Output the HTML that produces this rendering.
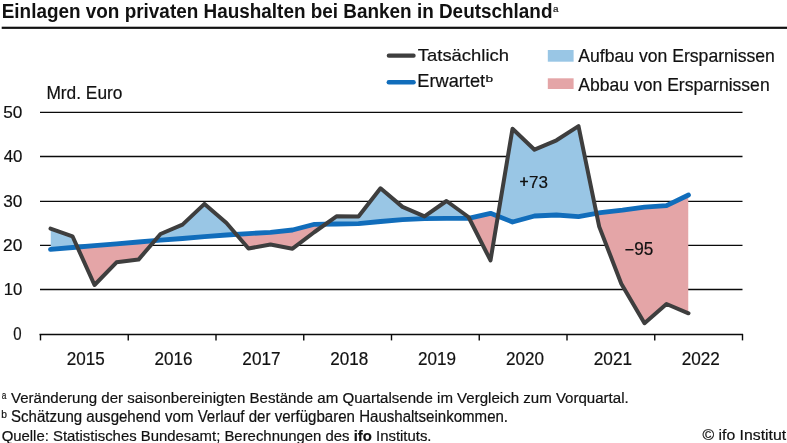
<!DOCTYPE html>
<html><head><meta charset="utf-8"><style>html,body{margin:0;padding:0;background:#fff;width:787px;height:443px;overflow:hidden}svg{display:block}</style></head>
<body><svg width="787" height="443" viewBox="0 0 787 443" font-family="Liberation Sans, sans-serif">
<rect width="787" height="443" fill="#fff"/>
<defs>
<clipPath id="ca"><polygon points="50.5,249.3 72.5,247.5 94.5,245.6 116.5,243.8 138.5,242.0 160.5,240.2 182.5,238.5 204.5,236.6 226.5,235.0 248.5,233.6 270.5,232.3 292.5,230.0 314.5,224.3 336.5,224.0 358.5,223.7 380.5,221.5 402.5,219.6 424.5,218.6 446.5,218.4 468.5,218.4 490.5,213.3 512.5,222.0 534.5,216.0 556.5,215.0 578.5,216.6 600.5,212.7 622.5,210.2 644.5,207.2 666.5,205.6 688.5,195.0 688.5,0 50.5,0"/></clipPath>
<clipPath id="cb"><polygon points="50.5,249.3 72.5,247.5 94.5,245.6 116.5,243.8 138.5,242.0 160.5,240.2 182.5,238.5 204.5,236.6 226.5,235.0 248.5,233.6 270.5,232.3 292.5,230.0 314.5,224.3 336.5,224.0 358.5,223.7 380.5,221.5 402.5,219.6 424.5,218.6 446.5,218.4 468.5,218.4 490.5,213.3 512.5,222.0 534.5,216.0 556.5,215.0 578.5,216.6 600.5,212.7 622.5,210.2 644.5,207.2 666.5,205.6 688.5,195.0 688.5,443 50.5,443"/></clipPath>
</defs>
<rect x="1.7" y="26.7" width="785.3" height="2.2" fill="#111"/>
<line x1="40" y1="289.50" x2="742.5" y2="289.50" stroke="#0a0a0a" stroke-width="1.4"/><line x1="40" y1="245.40" x2="742.5" y2="245.40" stroke="#0a0a0a" stroke-width="1.4"/><line x1="40" y1="201.40" x2="742.5" y2="201.40" stroke="#0a0a0a" stroke-width="1.4"/><line x1="40" y1="156.50" x2="742.5" y2="156.50" stroke="#0a0a0a" stroke-width="1.4"/><line x1="40" y1="112.40" x2="742.5" y2="112.40" stroke="#0a0a0a" stroke-width="1.4"/>
<polygon points="50.5,228.6 72.5,236.3 94.5,285.0 116.5,262.3 138.5,259.6 160.5,234.0 182.5,224.6 204.5,203.9 226.5,223.0 248.5,248.5 270.5,244.5 292.5,248.7 314.5,232.0 336.5,216.3 358.5,216.5 380.5,188.3 402.5,206.9 424.5,216.4 446.5,201.0 468.5,217.0 490.5,260.4 512.5,128.8 534.5,149.7 556.5,140.3 578.5,126.1 599.2,226.6 621.3,283.7 644.5,323.2 666.5,304.0 688.5,313.3 688.5,195.0 666.5,205.6 644.5,207.2 622.5,210.2 600.5,212.7 578.5,216.6 556.5,215.0 534.5,216.0 512.5,222.0 490.5,213.3 468.5,218.4 446.5,218.4 424.5,218.6 402.5,219.6 380.5,221.5 358.5,223.7 336.5,224.0 314.5,224.3 292.5,230.0 270.5,232.3 248.5,233.6 226.5,235.0 204.5,236.6 182.5,238.5 160.5,240.2 138.5,242.0 116.5,243.8 94.5,245.6 72.5,247.5 50.5,249.3" fill="#99c6e5" clip-path="url(#ca)"/>
<polygon points="50.5,228.6 72.5,236.3 94.5,285.0 116.5,262.3 138.5,259.6 160.5,234.0 182.5,224.6 204.5,203.9 226.5,223.0 248.5,248.5 270.5,244.5 292.5,248.7 314.5,232.0 336.5,216.3 358.5,216.5 380.5,188.3 402.5,206.9 424.5,216.4 446.5,201.0 468.5,217.0 490.5,260.4 512.5,128.8 534.5,149.7 556.5,140.3 578.5,126.1 599.2,226.6 621.3,283.7 644.5,323.2 666.5,304.0 688.5,313.3 688.5,195.0 666.5,205.6 644.5,207.2 622.5,210.2 600.5,212.7 578.5,216.6 556.5,215.0 534.5,216.0 512.5,222.0 490.5,213.3 468.5,218.4 446.5,218.4 424.5,218.6 402.5,219.6 380.5,221.5 358.5,223.7 336.5,224.0 314.5,224.3 292.5,230.0 270.5,232.3 248.5,233.6 226.5,235.0 204.5,236.6 182.5,238.5 160.5,240.2 138.5,242.0 116.5,243.8 94.5,245.6 72.5,247.5 50.5,249.3" fill="#e4a5a7" clip-path="url(#cb)"/>
<line x1="39.55" y1="334.5" x2="743" y2="334.5" stroke="#0a0a0a" stroke-width="1.4"/><line x1="40.50" y1="334" x2="40.50" y2="340.4" stroke="#0a0a0a" stroke-width="1.4"/><line x1="128.25" y1="334" x2="128.25" y2="340.4" stroke="#0a0a0a" stroke-width="1.4"/><line x1="216.00" y1="334" x2="216.00" y2="340.4" stroke="#0a0a0a" stroke-width="1.4"/><line x1="303.75" y1="334" x2="303.75" y2="340.4" stroke="#0a0a0a" stroke-width="1.4"/><line x1="391.50" y1="334" x2="391.50" y2="340.4" stroke="#0a0a0a" stroke-width="1.4"/><line x1="479.25" y1="334" x2="479.25" y2="340.4" stroke="#0a0a0a" stroke-width="1.4"/><line x1="567.00" y1="334" x2="567.00" y2="340.4" stroke="#0a0a0a" stroke-width="1.4"/><line x1="654.75" y1="334" x2="654.75" y2="340.4" stroke="#0a0a0a" stroke-width="1.4"/><line x1="742.50" y1="334" x2="742.50" y2="340.4" stroke="#0a0a0a" stroke-width="1.4"/>
<polyline points="50.5,249.3 72.5,247.5 94.5,245.6 116.5,243.8 138.5,242.0 160.5,240.2 182.5,238.5 204.5,236.6 226.5,235.0 248.5,233.6 270.5,232.3 292.5,230.0 314.5,224.3 336.5,224.0 358.5,223.7 380.5,221.5 402.5,219.6 424.5,218.6 446.5,218.4 468.5,218.4 490.5,213.3 512.5,222.0 534.5,216.0 556.5,215.0 578.5,216.6 600.5,212.7 622.5,210.2 644.5,207.2 666.5,205.6 688.5,195.0" fill="none" stroke="#116dbb" stroke-width="4.8" stroke-linejoin="round" stroke-linecap="round"/>
<polyline points="50.5,228.6 72.5,236.3 94.5,285.0 116.5,262.3 138.5,259.6 160.5,234.0 182.5,224.6 204.5,203.9 226.5,223.0 248.5,248.5 270.5,244.5 292.5,248.7 314.5,232.0 336.5,216.3 358.5,216.5 380.5,188.3 402.5,206.9 424.5,216.4 446.5,201.0 468.5,217.0 490.5,260.4 512.5,128.8 534.5,149.7 556.5,140.3 578.5,126.1 599.2,226.6 621.3,283.7 644.5,323.2 666.5,304.0 688.5,313.3" fill="none" stroke="#3e3e3e" stroke-width="4" stroke-linejoin="round" stroke-linecap="round"/>
<line x1="388.8" y1="55.7" x2="413.6" y2="55.7" stroke="#3e3e3e" stroke-width="4.2" stroke-linecap="round"/>
<line x1="388.8" y1="82.3" x2="413.6" y2="82.3" stroke="#116dbb" stroke-width="4.4" stroke-linecap="round"/>
<path d="M520.1 181.5H528M524.05 177.3V185.9M625.4 249.7H633.5" stroke="#111" stroke-width="1.6" fill="none"/>
<rect x="547.8" y="50" width="25.8" height="11.7" fill="#99c6e5"/>
<rect x="547.8" y="78.3" width="25.8" height="10.7" fill="#e4a5a7"/>
<g style="filter:grayscale(1)" stroke="#111" stroke-width="0.2">
<text stroke="none" id="title" x="1.73" y="17.70" font-size="19.57" font-weight="bold" textLength="550.74" lengthAdjust="spacingAndGlyphs" fill="#111">Einlagen von privaten Haushalten bei Banken in Deutschland</text><text id="title_sup" x="552.91" y="12.20" font-size="9.81" font-weight="normal" textLength="5.46" lengthAdjust="spacingAndGlyphs" fill="#111">a</text><text id="mrd" x="46.41" y="98.60" font-size="17.83" font-weight="normal" textLength="76.08" lengthAdjust="spacingAndGlyphs" fill="#111">Mrd. Euro</text><text id="leg1" x="417.83" y="60.50" font-size="17.39" font-weight="normal" textLength="91.10" lengthAdjust="spacingAndGlyphs" fill="#111">Tatsächlich</text><text id="leg2" x="417.35" y="87.10" font-size="17.97" font-weight="normal" textLength="67.71" lengthAdjust="spacingAndGlyphs" fill="#111">Erwartet</text><text id="leg2_sup" x="485.45" y="82.30" font-size="9.18" font-weight="normal" textLength="7.59" lengthAdjust="spacingAndGlyphs" fill="#111">b</text><text id="leg3" x="578.30" y="61.70" font-size="17.97" font-weight="normal" textLength="196.62" lengthAdjust="spacingAndGlyphs" fill="#111">Aufbau von Ersparnissen</text><text id="leg4" x="578.30" y="90.50" font-size="18.26" font-weight="normal" textLength="191.35" lengthAdjust="spacingAndGlyphs" fill="#111">Abbau von Ersparnissen</text><text id="p73" x="529.05" y="187.70" font-size="17.00" font-weight="normal" textLength="18.98" lengthAdjust="spacingAndGlyphs" fill="#111">73</text><text id="m95" x="634.24" y="254.70" font-size="17.43" font-weight="normal" textLength="19.08" lengthAdjust="spacingAndGlyphs" fill="#111">95</text><text id="fn1" x="10.95" y="402.70" font-size="15.22" font-weight="normal" textLength="617.78" lengthAdjust="spacingAndGlyphs" fill="#111">Veränderung der saisonbereinigten Bestände am Quartalsende im Vergleich zum Vorquartal.</text><text id="fn1_sup" x="1.67" y="398.70" font-size="10.37" font-weight="normal" textLength="4.60" lengthAdjust="spacingAndGlyphs" fill="#111">a</text><text id="fn2" x="11.05" y="422.10" font-size="15.57" font-weight="normal" textLength="497.01" lengthAdjust="spacingAndGlyphs" fill="#111">Schätzung ausgehend vom Verlauf der verfügbaren Haushaltseinkommen.</text><text id="fn2_sup" x="1.28" y="417.90" font-size="10.14" font-weight="normal" textLength="5.69" lengthAdjust="spacingAndGlyphs" fill="#111">b</text><text id="fn3" x="1.65" y="440.70" font-size="15.00" font-weight="normal" textLength="429.86" lengthAdjust="spacingAndGlyphs" fill="#111">Quelle: Statistisches Bundesamt; Berechnungen des <tspan font-weight="bold">ifo</tspan> Instituts.</text><text id="copy" x="702.58" y="439.90" font-size="14.49" font-weight="normal" textLength="83.49" lengthAdjust="spacingAndGlyphs" fill="#111">© ifo Institut</text><text id="yl0" x="13.30" y="339.50" font-size="17.71" font-weight="normal" textLength="8.34" lengthAdjust="spacingAndGlyphs" fill="#111">0</text><text id="yl1" x="3.76" y="294.60" font-size="16.86" font-weight="normal" textLength="18.65" lengthAdjust="spacingAndGlyphs" fill="#111">10</text><text id="yl2" x="3.13" y="250.50" font-size="16.86" font-weight="normal" textLength="19.30" lengthAdjust="spacingAndGlyphs" fill="#111">20</text><text id="yl3" x="3.31" y="206.50" font-size="16.86" font-weight="normal" textLength="19.12" lengthAdjust="spacingAndGlyphs" fill="#111">30</text><text id="yl4" x="3.66" y="161.60" font-size="16.86" font-weight="normal" textLength="18.75" lengthAdjust="spacingAndGlyphs" fill="#111">40</text><text id="yl5" x="3.31" y="117.50" font-size="16.86" font-weight="normal" textLength="19.12" lengthAdjust="spacingAndGlyphs" fill="#111">50</text><text id="yr2015" x="66.65" y="364.70" font-size="17.71" font-weight="normal" textLength="38.02" lengthAdjust="spacingAndGlyphs" fill="#111">2015</text><text id="yr2016" x="154.51" y="364.70" font-size="17.71" font-weight="normal" textLength="38.02" lengthAdjust="spacingAndGlyphs" fill="#111">2016</text><text id="yr2017" x="242.36" y="364.70" font-size="17.71" font-weight="normal" textLength="38.20" lengthAdjust="spacingAndGlyphs" fill="#111">2017</text><text id="yr2018" x="330.23" y="364.70" font-size="17.71" font-weight="normal" textLength="38.02" lengthAdjust="spacingAndGlyphs" fill="#111">2018</text><text id="yr2019" x="418.09" y="364.70" font-size="17.71" font-weight="normal" textLength="38.02" lengthAdjust="spacingAndGlyphs" fill="#111">2019</text><text id="yr2020" x="505.95" y="364.70" font-size="17.71" font-weight="normal" textLength="38.02" lengthAdjust="spacingAndGlyphs" fill="#111">2020</text><text id="yr2021" x="593.80" y="364.70" font-size="17.71" font-weight="normal" textLength="38.20" lengthAdjust="spacingAndGlyphs" fill="#111">2021</text><text id="yr2022" x="681.66" y="364.70" font-size="17.71" font-weight="normal" textLength="38.20" lengthAdjust="spacingAndGlyphs" fill="#111">2022</text>
</g>
</svg></body></html>
